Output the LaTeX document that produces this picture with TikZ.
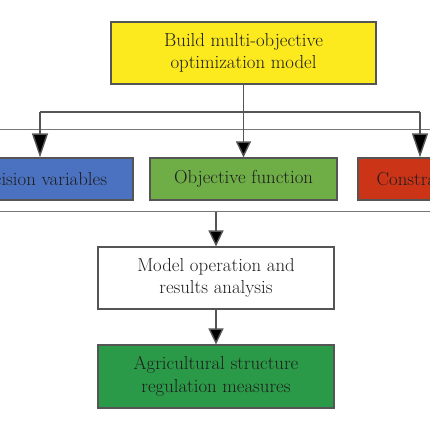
\documentclass[tikz,border=0pt]{standalone}
\usepackage{tikz}
\usetikzlibrary{arrows.meta}
\definecolor{buildyellow}{HTML}{FCE91E}
\definecolor{varblue}{HTML}{4A72C0}
\definecolor{objgreen}{HTML}{6FAD47}
\definecolor{conred}{HTML}{CC3418}
\definecolor{measgreen}{HTML}{2B9A48}
\definecolor{edgegray}{HTML}{555555}
\definecolor{textgray}{HTML}{1E1E1E}

\tikzset{
  box/.style={draw=edgegray, line width=1.2pt, align=center, inner sep=0pt, text=textgray},
  link/.style={draw=edgegray, line width=1.4pt},
  tipshort/.style={link, -{Triangle[length=16pt, width=15pt, fill=black]}},
  tiplong/.style={link, -{Triangle[length=24pt, width=16pt, fill=black]}}
}

\begin{document}
\begin{tikzpicture}[x=1pt, y=-1pt, font=\fontsize{18.8}{22.5}\selectfont]
  \useasboundingbox (0,0) rectangle (430,430);
  \clip (0,0) rectangle (430,430);

  % frame round the three parts of the model
  \node[draw=edgegray!80, line width=1pt, minimum width=600pt, minimum height=81pt] (frame) at (215,170.5) {};

  \node[box, fill=buildyellow, minimum width=265pt, minimum height=62pt] (build) at (243.5,53) {Build multi-objective\\optimization model};
  \node[box, fill=varblue, minimum width=186pt, minimum height=42pt] (dec) at (40,179) {Decision variables};
  \node[box, fill=objgreen, minimum width=187pt, minimum height=42pt] (obj) at (243.5,179) {Objective function};
  \node[box, fill=conred, minimum width=124pt, minimum height=42pt] (con) at (420,179) {Constraints};
  \node[box, fill=white, minimum width=236pt, minimum height=62pt] (run) at (216,278) {Model operation and\\results analysis};
  \node[box, fill=measgreen, minimum width=236pt, minimum height=63pt] (meas) at (216,376.5) {Agricultural structure\\regulation measures};

  \coordinate (bl) at (40,112);
  \coordinate (br) at (420,112);
  \draw[link] (bl) -- (br);
  \draw[tipshort] (build.south) -- (obj.north);
  \draw[tiplong] (bl) -- (dec.north);
  \draw[tiplong] (br) -- (con.north);
  \draw[tipshort] (frame.south -| run.north) -- (run.north);
  \draw[tipshort] (run.south) -- (meas.north);
\end{tikzpicture}
\end{document}
